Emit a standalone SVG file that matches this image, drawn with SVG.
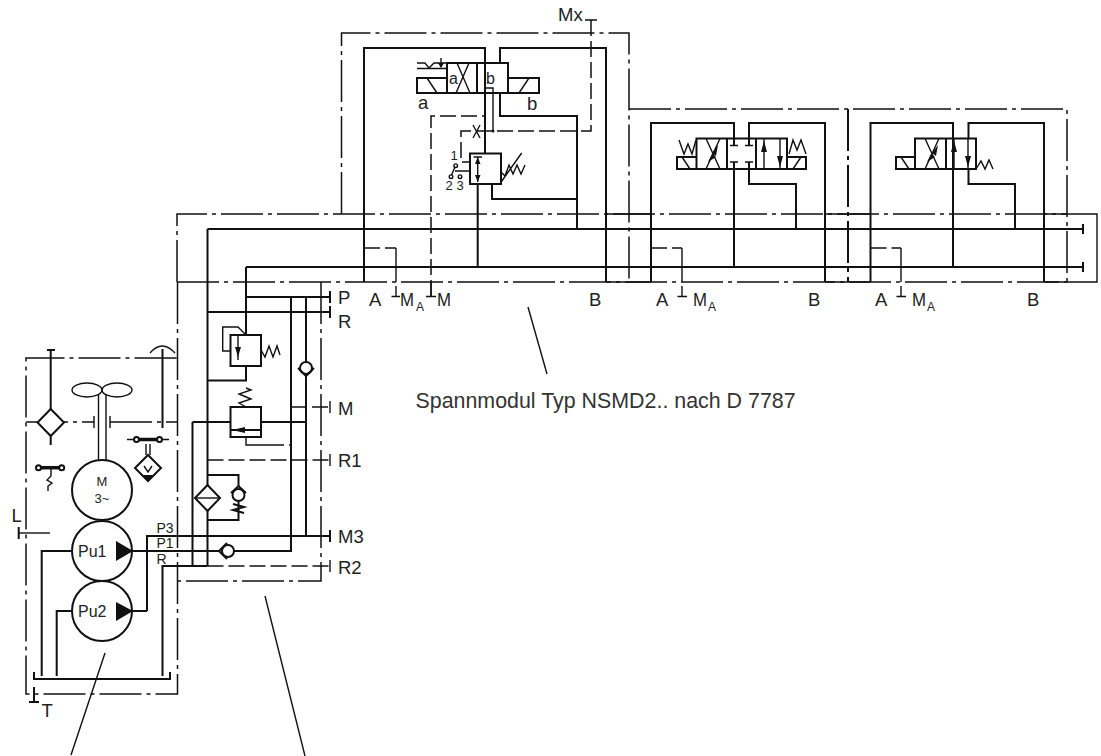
<svg xmlns="http://www.w3.org/2000/svg" width="1101" height="756" viewBox="0 0 1101 756">
<style>
.k{fill:none;stroke:#111;stroke-width:2}
.t{fill:none;stroke:#111;stroke-width:1.4}
.f{fill:none;stroke:#111;stroke-width:1.5;stroke-dasharray:42 5 4 5}
.d{fill:none;stroke:#111;stroke-width:1.5;stroke-dasharray:16 5}
.s{fill:#111;stroke:none}
.w{fill:#fff;stroke:#111;stroke-width:2}
.h{fill:none;stroke:#111;stroke-width:3.5}
text{font-family:"Liberation Sans",Arial,sans-serif;fill:#222}
.l{font-size:18.500px}
.m{font-size:13px}
.p{font-size:14px}
.u{font-size:16px}
.n{font-size:12px}
</style>
<rect width="1101" height="756" fill="#fff"/>
<g id="frames">
<path class="f" d="M341.500 214V33H629V282"/>
<path class="f" d="M629 109H1067V282"/>
<path class="k" d="M848 109V282" stroke-dasharray="42 5 4 5"/>
<path class="f" d="M177 282V214H1067M177 282H1067"/>
<path class="t" d="M606 214H651M825 214H870.500M1044 214H1097V282H1044M870.500 282H825M651 282H606"/>
<path class="f" d="M177.500 282V694H26V358H177"/>
<path class="f" d="M321 282V581H177"/>
<path class="f" d="M26 422H94M110 422H177"/>
</g>
<g id="connectors">
<path class="k" d="M207.500 229H1083M246 267H1083M1083 224V234M1083 262V272"/>
<path class="k" d="M364 282V48H485V153M500 63V48H606V282"/>
<path class="k" d="M485 93V153M500 93V116H577V229M477.700 184V267M492 184V199H577"/>
<path class="d" d="M431 296V116H485"/>
<path class="d" d="M591 20V131H461V162H470"/>
<path class="t" d="M485 88H493V131M585 20H597"/>
<circle class="s" cx="493" cy="131" r="1.500"/>
<path class="d" d="M364 248H396"/><path class="t" d="M396 248V282M396 286V296M391.500 296.500H400"/>
<path class="t" d="M431 282V296M426 296.500H436"/>
<path class="k" d="M651 282V123H734V145M734 162V267M749 145V123H825V282M749 162V184H796V229"/>
<path class="d" d="M651 248H682"/><path class="t" d="M682 248V282M682 286V296M677.500 296.500H687"/>
<path class="k" d="M870.500 282V123H953V267M968.500 138V123H1044V282M968.500 169V184H1015V229"/>
<path class="d" d="M870.500 248H901"/><path class="t" d="M901 248V282M901 286V296M896.500 296.500H906"/>
<path class="k" d="M207.500 229V566M246 267V335M246 366V380.500H207.500"/>
<path class="k" d="M246 297H330M207.500 312H330M330 291V303M330 306V318"/>
<path class="k" d="M291 297V551H234M306 297V536"/>
<path class="k" d="M192.500 422H230.500M261 422H306M192.500 422V566"/>
<path class="t" d="M246 437V445H268"/><path class="d" d="M268 445H291"/>
<path class="d" d="M291 407H330"/><path class="t" d="M330 401V413"/>
<path class="d" d="M207.500 460H330"/><path class="t" d="M330 454V466"/>
<path class="k" d="M147 611V536H330M330 530V542M133 551H220M133 611H147"/>
<path class="k" d="M162.500 676V566H207.500"/><path class="d" d="M207.500 566H330"/><path class="t" d="M330 560V572"/>
<path class="k" d="M41.700 676V551H72M56.700 676V611H72"/>
<path class="k" d="M34 672V679H170V672M34 687V702M29 702H39"/>
<path class="k" d="M18.700 527V539"/><path class="t" d="M18.700 533H50"/>
<path class="t" d="M105 653L71 755M265 596L305 756M528 307L547 374"/>
</g>
<g id="valve-1">
<path class="k" d="M447 63H508V93H447ZM477 63V93M417 78H447V93H417ZM508 78H539V93H508"/>
<path class="t" d="M427 78L437 93M529 78L519 93M456 93L469 63M457 63L470 93"/>
<path class="t" d="M417 68.500H447M417 63H425L429 68L434 63H447M441 58V67"/>
<path class="s" d="M441 68L438 63H444Z"/>
</g>
<g id="valve-pilot">
<rect class="k" x="470" y="153.500" width="31" height="30.500"/>
<path class="t" d="M477.700 157V182M473.500 157H482M455 171H470M501.500 181.500L521.700 153M501 172L505 176L509 165L513 174L517 165L521 174L525 165"/>
<path class="s" d="M477.700 157L475 164H480.500ZM477.700 182L475 175H480.500Z"/>
<path class="t" d="M473 125L480 138M480 125L473 138"/>
<circle class="t" cx="455.700" cy="165.700" r="1.800"/><circle class="t" cx="451" cy="176.700" r="1.800"/><circle class="t" cx="460" cy="176.700" r="1.800"/>
<path class="t" d="M455 167L451.500 175"/>
</g>
<g id="valve-2">
<path class="k" d="M696.500 138.500H787V169H696.500ZM727 138.500V169M756 138.500V169M677 157H696.500V169H677ZM787 157H806V169H787Z"/>
<path class="t" d="M706 169L720 138.500M706 138.500L720 169M682 157L690 169M801 157L793 169M764 139V169M780 139V169M730 145.500H738M745 145.500H753M730 162H738M745 162H753M679 140L684 154L688 144L692 154L696 140M789 154L793 140L797 150L801 140L806 154"/>
<path class="s" d="M764 141L767 152H761ZM780 167L777 156H783ZM718 145L712 153L716 156ZM708 162L712 154L716 157Z"/>
</g>
<g id="valve-3">
<path class="k" d="M915 138.500H976V169H915ZM946 138.500V169M896 157H915V169H896Z"/>
<path class="t" d="M925 169L939 138.500M925 138.500L939 169M901 157L909 169M954 139V169M968 139V169M976 169L981 161L985 169L989 160L993 169"/>
<path class="s" d="M954 141L957 152H951ZM968 167L965 156H971ZM938 145L932 153L936 156ZM927 162L931 154L935 157Z"/>
</g>
<g id="relief-valve">
<rect class="k" x="230.500" y="335" width="30.500" height="31"/>
<path class="t" d="M238 335V360M230.500 351H222.700V327H238L246 335M261 350L265 357L269 346L273 357L277 346L280 355"/>
<path class="s" d="M238 357L235 347H241Z"/>
</g>
<g id="reducing-valve">
<rect class="k" x="230.500" y="407" width="30.500" height="30"/>
<path class="k" d="M230.500 430H261"/><path class="s" d="M232 430L245 427V433Z"/>
<path class="t" d="M246 407L239 403L251 399L239 394L251 390L246 388"/>
</g>
<g id="check-valve-m">
<circle class="w" cx="306" cy="368" r="6"/><path class="k" d="M298 368L306 376L314 368"/>
</g>
<g id="filter-bypass">
<path class="k" d="M207.500 475H238.500V487M238.500 501V520H207.500"/>
<path class="w" d="M207.500 485L220 498L207.500 511L195 498Z"/><path class="t" d="M195 498H220"/>
<circle class="w" cx="238.500" cy="495" r="6"/><path class="k" d="M231 493L238.500 486L246 493"/>
<path class="k" d="M233 504L244 507L233 510L244 513"/>
</g>
<g id="check-valve-p1">
<circle class="w" cx="228" cy="551" r="6"/><path class="k" d="M227 543L219 551L227 559"/>
</g>
<g id="motor">
<circle class="k" cx="102" cy="490" r="30"/>
<text class="m" x="102" y="486" text-anchor="middle">M</text><text class="m" x="102" y="503" text-anchor="middle">3~</text>
</g>
<g id="fan">
<ellipse class="t" cx="87" cy="390" rx="15" ry="7"/><ellipse class="t" cx="117" cy="390" rx="15" ry="7"/>
<path class="t" d="M98.500 395V460M106 395V460M94 416V428M110 416V428"/>
</g>
<g id="pump-1">
<circle class="k" cx="102" cy="551" r="30"/><path class="s" d="M116 541L133 551L116 561Z"/>
<text class="u" x="78" y="557">Pu1</text>
</g>
<g id="pump-2">
<circle class="k" cx="102" cy="611" r="30"/><path class="s" d="M116 602L133 611L116 621Z"/>
<text class="u" x="78" y="617">Pu2</text>
</g>
<g id="filter-air">
<path class="w" d="M50.700 409L64 422.500L50.700 436L37.500 422.500Z"/>
<path class="k" d="M50.700 409V350M47 350H55M50.700 436V445"/>
</g>
<g id="breather">
<path class="k" d="M162.500 349V428"/><path class="t" d="M150 353Q162 339 175 353"/>
</g>
<g id="filter-v">
<path class="t" d="M127 439.500H169"/><path class="h" d="M136.500 439.500H159.500"/>
<circle class="w" cx="136.500" cy="439.500" r="2.500"/><circle class="w" cx="159.500" cy="439.500" r="2.500"/>
<path class="t" d="M146 444V455M150 444V455"/>
<path class="w" d="M148 455L161 468L148 481L135 468Z"/><path class="t" d="M144 466L148 472L152 466"/><path class="s" d="M142 475H154L148 481Z"/>
</g>
<g id="level-switch">
<path class="h" d="M38.500 467.700H61.700"/>
<circle class="w" cx="38.500" cy="467.700" r="2.500"/><circle class="w" cx="61.700" cy="467.700" r="2.500"/>
<path class="t" d="M51 468V476L47 480L52 483L48 486V491"/>
</g>
<g id="labels">
<text class="l" x="558" y="21">Mx</text>
<text class="l" x="418" y="109">a</text><text class="l" x="527" y="110">b</text>
<text class="u" x="449" y="84">a</text><text class="u" x="486" y="84">b</text>
<text class="n" x="454" y="160" text-anchor="middle" style="font-size:13px">1</text>
<text class="n" x="449" y="190" text-anchor="middle" style="font-size:13px">2</text><text class="n" x="460" y="190" text-anchor="middle" style="font-size:13px">3</text>
<text class="l" x="369" y="306">A</text><text class="l" x="400" y="306" textLength="14" lengthAdjust="spacingAndGlyphs">M</text><text class="n" x="416" y="311">A</text>
<text class="l" x="437" y="306" textLength="14" lengthAdjust="spacingAndGlyphs">M</text><text class="l" x="589" y="306">B</text>
<text class="l" x="656" y="306">A</text><text class="l" x="693" y="306" textLength="14" lengthAdjust="spacingAndGlyphs">M</text><text class="n" x="708" y="311">A</text><text class="l" x="808" y="306">B</text>
<text class="l" x="875" y="306">A</text><text class="l" x="912" y="306" textLength="14" lengthAdjust="spacingAndGlyphs">M</text><text class="n" x="927" y="311">A</text><text class="l" x="1027" y="306">B</text>
<text class="l" x="338" y="304">P</text><text class="l" x="338" y="328">R</text>
<text class="l" x="338" y="415">M</text><text class="l" x="338" y="467">R1</text><text class="l" x="338" y="543">M3</text><text class="l" x="338" y="574">R2</text>
<text class="p" x="156.500" y="532.500">P3</text><text class="p" x="156.500" y="548">P1</text><text class="p" x="156.500" y="564">R</text>
<text class="l" x="11.500" y="522">L</text><text class="l" x="41.500" y="717">T</text>
<text x="415.500" y="407.500" style="font-size:21.400px;fill:#333">Spannmodul Typ NSMD2.. nach D 7787</text>
</g>
</svg>
